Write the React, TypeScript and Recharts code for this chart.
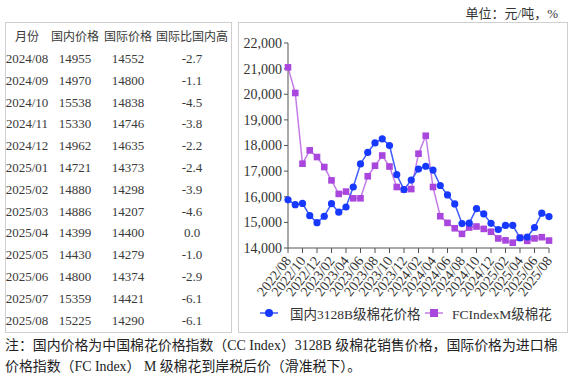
import React from 'react';
import { LineChart, Line, XAxis, YAxis, Legend } from 'recharts';

// chart months 2022/08 .. 2025/08
const months = [
  '2022/08', '2022/09', '2022/10', '2022/11', '2022/12',
  '2023/01', '2023/02', '2023/03', '2023/04', '2023/05', '2023/06',
  '2023/07', '2023/08', '2023/09', '2023/10', '2023/11', '2023/12',
  '2024/01', '2024/02', '2024/03', '2024/04', '2024/05', '2024/06',
  '2024/07', '2024/08', '2024/09', '2024/10', '2024/11', '2024/12',
  '2025/01', '2025/02', '2025/03', '2025/04', '2025/05', '2025/06',
  '2025/07', '2025/08',
];

const domestic = [
  15880, 15690, 15740, 15260, 14990,
  15240, 15730, 15400, 15600, 16380, 17280,
  17730, 18100, 18260, 18000, 16860, 16280,
  16650, 17080, 17190, 17040, 16440, 16070,
  15720, 14955, 14970, 15538, 15330, 14962,
  14721, 14880, 14886, 14399, 14430, 14800,
  15359, 15225,
];

const international = [
  21050, 20050, 17290, 17810, 17550,
  17160, 16640, 16110, 16200, 15940, 15940,
  16800, 17210, 17610, 17180, 16380, 16280,
  16300, 17680, 18380, 16380, 15240, 14980,
  14770, 14552, 14800, 14838, 14746, 14635,
  14373, 14298, 14207, 14400, 14279, 14374,
  14421, 14290,
];

const yTicks = [14000, 15000, 16000, 17000, 18000, 19000, 20000, 21000, 22000];

// table (last 13 months)
const tableMonths = [
  '2024/08', '2024/09', '2024/10', '2024/11', '2024/12', '2025/01', '2025/02',
  '2025/03', '2025/04', '2025/05', '2025/06', '2025/07', '2025/08',
];
const tableDomestic = [14955, 14970, 15538, 15330, 14962, 14721, 14880, 14886, 14399, 14430, 14800, 15359, 15225];
const tableIntl = [14552, 14800, 14838, 14746, 14635, 14373, 14298, 14207, 14400, 14279, 14374, 14421, 14290];
const tableDiff = ['-2.7', '-1.1', '-4.5', '-3.8', '-2.2', '-2.4', '-3.9', '-4.6', '0.0', '-1.0', '-2.9', '-6.1', '-6.1'];
const headers = ['月份', '国内价格', '国际价格', '国际比国内高'];

const BLUE_LINE = '#3d5cff';
const BLUE_DOT = '#1638ff';
const PURPLE_LINE = '#c47ce9';
const PURPLE_DOT = '#a946dd';

const SERIF = "'Liberation Serif', 'Noto Sans CJK SC', serif";
const SANS = "'Noto Sans CJK SC', 'Noto Sans', sans-serif";

const data = months.map((m, i) => ({ month: m, domestic: domestic[i], international: international[i] }));

const XTick = ({ x, y, payload }: any) => (
  <g transform={`translate(${x},${y + 3})`}>
    <text x={0} y={0} dy="0.35em" textAnchor="end" transform="rotate(-52)" fontSize={14} fill="#333" fontFamily={SERIF}>
      {payload.value}
    </text>
  </g>
);

const YTick = ({ x, y, payload }: any) => (
  <text x={x} y={y} dy="0.35em" textAnchor="end" fontSize={14} fill="#333" fontFamily={SERIF}>
    {payload.value.toLocaleString('en-US')}
  </text>
);

const CircleDot = (props: any) => {
  const { cx, cy, index } = props;
  return <circle key={`c${index}`} cx={cx} cy={cy} r={3.6} fill={BLUE_DOT} />;
};

const SquareDot = (props: any) => {
  const { cx, cy, index } = props;
  return <rect key={`s${index}`} x={cx - 3.3} y={cy - 3.3} width={6.6} height={6.6} fill={PURPLE_DOT} />;
};

const LegendContent = () => (
  <div style={{ height: 26, position: 'relative', fontFamily: SERIF, fontSize: 13.5, color: '#333' }}>
    <svg width={330} height={26} style={{ position: 'absolute', left: 0, top: 0 }}>
      <line x1={21} x2={39} y1={13} y2={13} stroke={BLUE_LINE} strokeWidth={1.5} />
      <circle cx={30} cy={13} r={4} fill={BLUE_DOT} />
      <line x1={186} x2={204} y1={13} y2={13} stroke={PURPLE_LINE} strokeWidth={1.5} />
      <rect x={191} y={9} width={8} height={8} fill={PURPLE_DOT} />
    </svg>
    <span style={{ position: 'absolute', left: 51, top: 3, whiteSpace: 'nowrap' }}>国内3128B级棉花价格</span>
    <span style={{ position: 'absolute', left: 213, top: 3, whiteSpace: 'nowrap' }}>FCIndexM级棉花</span>
  </div>
);

const colCenters = [21, 69, 122, 186];
const colWidth = [44, 48, 48, 74];

const Cell = ({ col, top, h, text, font }: { col: number; top: number; h: number; text: string; font: string }) => (
  <div
    style={{
      position: 'absolute',
      left: colCenters[col] - colWidth[col] / 2,
      width: colWidth[col],
      top,
      height: h,
      lineHeight: `${h}px`,
      textAlign: 'center',
      fontFamily: font,
      fontSize: font === SANS ? 12 : 13,
      color: '#3a3a3a',
      whiteSpace: 'nowrap',
    }}
  >
    {text}
  </div>
);

export default function App() {
  const rowH = 21.8;
  const headH = 25;
  return (
    <div style={{ position: 'absolute', left: 0, top: 0, width: 575, height: 378, background: '#fff', overflow: 'hidden' }}>
      {/* unit */}
      <div style={{ position: 'absolute', right: 17, top: 3, fontFamily: SERIF, fontSize: 13, color: '#333', whiteSpace: 'nowrap' }}>
        单位：元/吨，%
      </div>

      {/* table */}
      <div style={{ position: 'absolute', left: 5, top: 22, width: 227, height: 311, border: '1px solid #cfcfcf', boxSizing: 'border-box' }}>
        {headers.map((h, c) => (
          <Cell key={h} col={c} top={0} h={headH} text={h} font={SANS} />
        ))}
        {tableMonths.map((m, r) => {
          const top = headH + r * rowH;
          return (
            <React.Fragment key={m}>
              <Cell col={0} top={top} h={rowH} text={m} font={SERIF} />
              <Cell col={1} top={top} h={rowH} text={String(tableDomestic[r])} font={SERIF} />
              <Cell col={2} top={top} h={rowH} text={String(tableIntl[r])} font={SERIF} />
              <Cell col={3} top={top} h={rowH} text={tableDiff[r]} font={SERIF} />
            </React.Fragment>
          );
        })}
      </div>

      {/* chart */}
      <div style={{ position: 'absolute', left: 238, top: 22, width: 330, height: 311, border: '1px solid #cfcfcf', boxSizing: 'border-box' }}>
        <LineChart width={328} height={309} data={data} margin={{ top: 20, right: 18, left: 0, bottom: 6 }}>
          <XAxis
            dataKey="month"
            interval={1}
            tick={<XTick />}
            tickSize={5}
            height={52}
            padding={{ left: 0, right: 0 }}
            axisLine={{ stroke: '#555' }}
            tickLine={{ stroke: '#555' }}
          />
          <YAxis
            domain={[14000, 22000]}
            ticks={yTicks}
            width={49}
            tickSize={4}
            tick={<YTick />}
            axisLine={{ stroke: '#555' }}
            tickLine={{ stroke: '#555' }}
          />
          <Legend verticalAlign="bottom" content={<LegendContent />} />
          <Line
            dataKey="international"
            name="FCIndexM级棉花"
            stroke={PURPLE_LINE}
            strokeWidth={1.5}
            dot={<SquareDot />}
            isAnimationActive={false}
          />
          <Line
            dataKey="domestic"
            name="国内3128B级棉花价格"
            stroke={BLUE_LINE}
            strokeWidth={1.5}
            dot={<CircleDot />}
            isAnimationActive={false}
          />
        </LineChart>
      </div>

      {/* footnote */}
      <div style={{ position: 'absolute', left: 5, top: 335, width: 570, fontFamily: SERIF, fontSize: 13.9, lineHeight: '21px', color: '#222', whiteSpace: 'nowrap' }}>
        注：国内价格为中国棉花价格指数（CC Index）3128B 级棉花销售价格，国际价格为进口棉
        <br />
        价格指数（FC Index） M 级棉花到岸税后价（滑准税下）。
      </div>
    </div>
  );
}
